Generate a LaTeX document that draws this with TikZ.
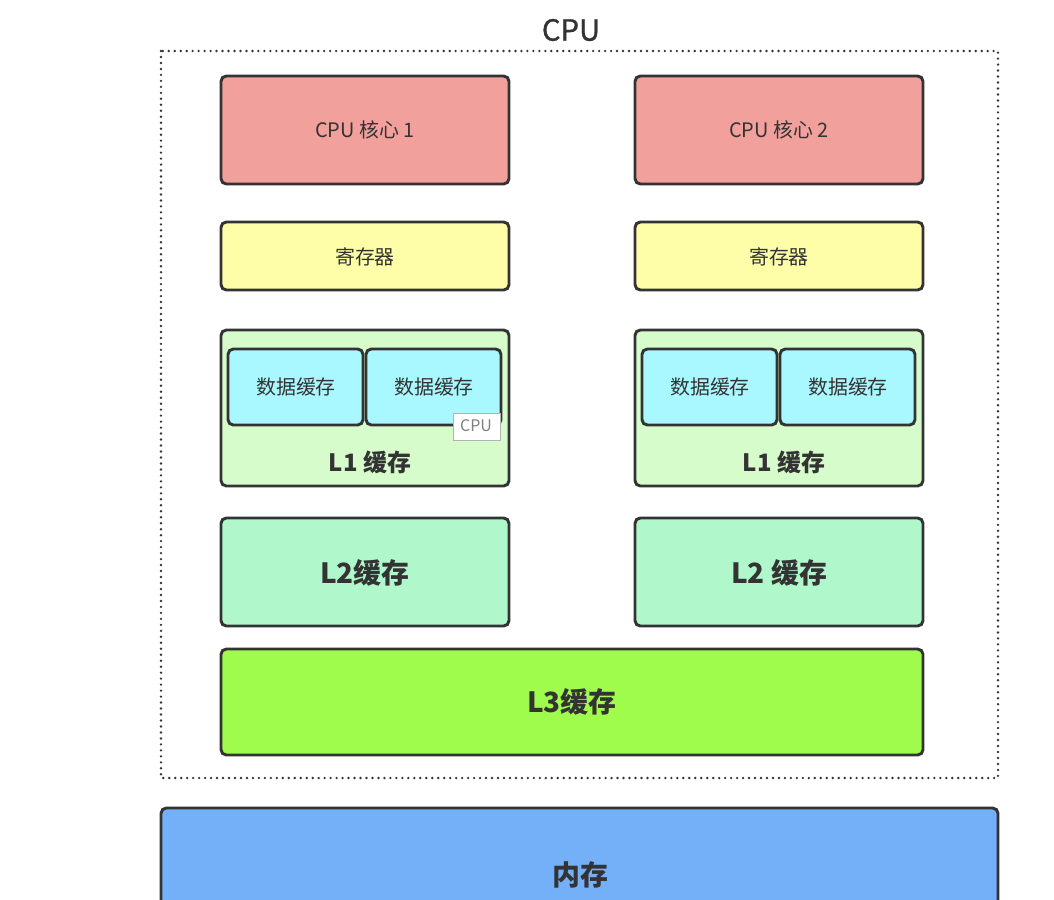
\documentclass[tikz,border=0pt]{standalone}
\usepackage{fontspec}
\setmainfont{Noto Sans CJK SC}
\definecolor{coreRed}{HTML}{F2A09C}
\definecolor{regYellow}{HTML}{FFFEA8}
\definecolor{lOneGreen}{HTML}{D6FCCC}
\definecolor{dataCyan}{HTML}{AAF8FF}
\definecolor{lTwoGreen}{HTML}{B0F8CC}
\definecolor{lThreeGreen}{HTML}{A0FC4C}
\definecolor{memBlue}{HTML}{74B0F8}
\definecolor{edgeGray}{HTML}{333333}
\tikzset{
  blk/.style={draw=edgeGray, line width=2.2pt, rounded corners=4pt, inner sep=0pt, text=edgeGray},
  small/.style={font=\fontsize{15}{18}\selectfont},
  big/.style={font=\fontsize{21}{24}\selectfont\bfseries}
}
\begin{document}
\begin{tikzpicture}[x=0.02646cm, y=-0.02646cm]
    \useasboundingbox (0,0) rectangle (1054,899);
    \clip (0,0) rectangle (1054,899);

    % CPU frame
    \draw[edgeGray, line width=2pt, line cap=round, dash pattern=on 0pt off 4.5pt] (161,51) rectangle (998,778);
    \node[text=edgeGray, font=\fontsize{22}{25}\selectfont\addfontfeature{FakeBold=1}] (title) at (571,30) {CPU};

    % two cores
    \foreach \dx/\n in {0/1, 414/2} {
        \draw[blk, fill=coreRed] (221+\dx,76) rectangle (509+\dx,184);
        \node[small, text=edgeGray] (core\n) at (365+\dx,130) {CPU 核心\ \n};

        \draw[blk, fill=regYellow] (221+\dx,222) rectangle (509+\dx,290);
        \node[small, text=edgeGray] (reg\n) at (365+\dx,257) {寄存器};

        \draw[blk, fill=lOneGreen] (221+\dx,330) rectangle (509+\dx,486);
        \draw[blk, fill=dataCyan] (228+\dx,349) rectangle (363+\dx,425);
        \draw[blk, fill=dataCyan] (366+\dx,349) rectangle (501+\dx,425);
        \node[small, text=edgeGray] (dataA\n) at (296+\dx,387) {数据缓存};
        \node[small, text=edgeGray] (dataB\n) at (434+\dx,387) {数据缓存};
        \node[text=edgeGray, font=\fontsize{18}{21}\selectfont\bfseries] (lone\n) at (370+\dx,462) {L1 缓存};

        \draw[blk, fill=lTwoGreen] (221+\dx,518) rectangle (509+\dx,626);
    }
    \node[big, text=edgeGray] (ltwo1) at (365,573) {L2缓存};
    \node[big, text=edgeGray] (ltwo2) at (779,573) {L2 缓存};

    % shared cache
    \draw[blk, fill=lThreeGreen] (221,649) rectangle (923,755);
    \node[big, text=edgeGray] (lthree) at (572,702) {L3缓存};

    % memory
    \draw[blk, fill=memBlue] (161,808) rectangle (998,940);
    \node[big, text=edgeGray] (mem) at (580,875) {内存};

    % tooltip
    \draw[gray!60, fill=white] (453,413) rectangle (500,440);
    \node[text=gray, font=\fontsize{12}{14}\selectfont] (tip) at (476,426) {CPU};
\end{tikzpicture}
\end{document}
